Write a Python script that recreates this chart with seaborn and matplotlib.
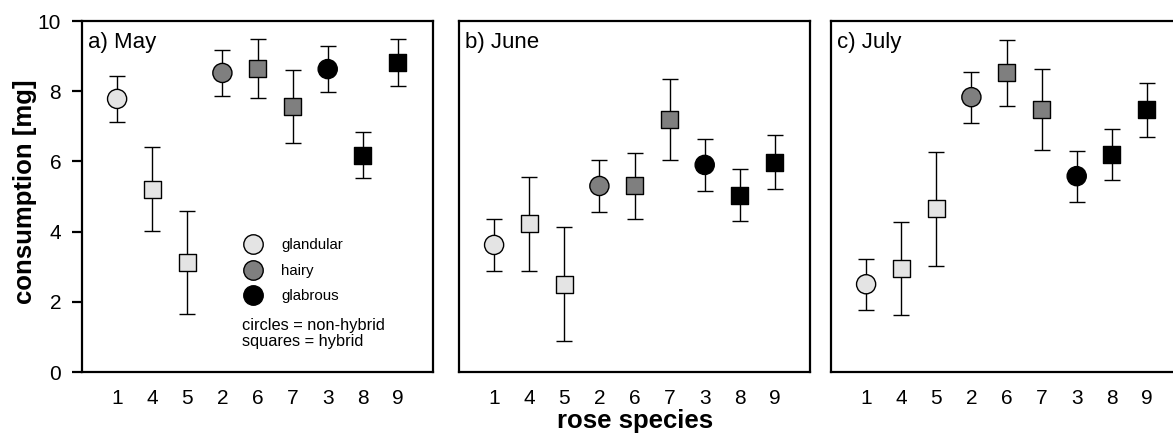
import numpy as np
import pandas as pd
import matplotlib
matplotlib.use('Agg')
import matplotlib.pyplot as plt
from matplotlib.lines import Line2D
import seaborn as sns

species = ['1', '4', '5', '2', '6', '7', '3', '8', '9']
group = ['glandular'] * 3 + ['hairy'] * 3 + ['glabrous'] * 3
hybrid = ['non-hybrid', 'hybrid', 'hybrid'] * 3

may_mean = [7.78, 5.21, 3.12, 8.52, 8.65, 7.56, 8.63, 6.18, 8.82]
may_err = [0.65, 1.20, 1.47, 0.66, 0.85, 1.04, 0.66, 0.65, 0.68]
june_mean = [3.62, 4.22, 2.50, 5.30, 5.30, 7.20, 5.90, 5.04, 5.98]
june_err = [0.73, 1.33, 1.63, 0.73, 0.95, 1.16, 0.73, 0.73, 0.77]
july_mean = [2.50, 2.95, 4.65, 7.83, 8.52, 7.48, 5.58, 6.20, 7.47]
july_err = [0.73, 1.33, 1.63, 0.73, 0.95, 1.16, 0.73, 0.73, 0.77]

months = ['a) May', 'b) June', 'c) July']
means = [may_mean, june_mean, july_mean]
errs = [may_err, june_err, july_err]

colors = {'glandular': '#e4e4e4', 'hairy': '#7f7f7f', 'glabrous': '#000000'}

sns.set_style('white')
plt.rcParams['font.family'] = ['Liberation Sans', 'DejaVu Sans']
plt.rcParams['text.color'] = 'black'
plt.rcParams['xtick.color'] = 'black'
plt.rcParams['ytick.color'] = 'black'

fig = plt.figure(figsize=(11.73, 4.37), dpi=100)
lefts = [82, 459, 831]

for i in range(3):
    ax = fig.add_axes([lefts[i] / 1173, 65 / 437, 351 / 1173, 351 / 437])
    df = pd.DataFrame({'pos': np.arange(1, 10), 'mean': means[i], 'err': errs[i],
                       'group': group, 'hybrid': hybrid})
    ax.errorbar(df['pos'], df['mean'], yerr=df['err'], fmt='none', ecolor='black',
                elinewidth=1, capsize=5.5, capthick=1, zorder=1)
    circ = df[df['hybrid'] == 'non-hybrid']
    sq = df[df['hybrid'] == 'hybrid']
    sns.scatterplot(data=circ, x='pos', y='mean', hue='group', palette=colors, marker='o',
                    s=190, edgecolor='black', linewidth=1, legend=False, ax=ax, zorder=3)
    sns.scatterplot(data=sq, x='pos', y='mean', hue='group', palette=colors, marker='s',
                    s=150, edgecolor='black', linewidth=1, legend=False, ax=ax, zorder=3)
    ax.set_xlim(0, 10)
    ax.set_ylim(0, 10)
    ax.set_xticks(np.arange(1, 10))
    ax.set_xticklabels(species)
    ax.set_xlabel('')
    ax.set_ylabel('')
    for sp in ax.spines.values():
        sp.set_linewidth(1.6)
        sp.set_color('black')
    ax.tick_params(axis='x', length=0, pad=12, labelsize=15)
    if i == 0:
        ax.set_yticks(np.arange(0, 11, 2))
        ax.tick_params(axis='y', left=True, length=7, width=1.6, pad=8, labelsize=15,
                       direction='out')
    else:
        ax.set_yticks([])
    ax.text(0.017, 0.968, months[i], transform=ax.transAxes, ha='left', va='top', fontsize=16)

    if i == 0:
        handles = [Line2D([], [], marker='o', ls='', markersize=14, markerfacecolor=colors[g],
                          markeredgecolor='black', markeredgewidth=1)
                   for g in ['glandular', 'hairy', 'glabrous']]
        ax.legend(handles, ['glandular', 'hairy', 'glabrous'], loc='upper left',
                  bbox_to_anchor=(0.42, 0.42), frameon=False, fontsize=10.8,
                  handlelength=1.4, handletextpad=1.15, labelspacing=0.78)
        ax.text(0.456, 0.155, 'circles = non-hybrid\nsquares = hybrid', transform=ax.transAxes,
                ha='left', va='top', fontsize=11.8, linespacing=1.1)

fig.text(25 / 1173, 1 - 192 / 437, 'consumption [mg]', rotation=90, ha='center', va='center',
         fontsize=18.5, fontweight='bold')
fig.text(635 / 1173, 9 / 437, 'rose species', ha='center', va='baseline',
         fontsize=18.5, fontweight='bold')

fig.savefig('out.png', dpi=100)
